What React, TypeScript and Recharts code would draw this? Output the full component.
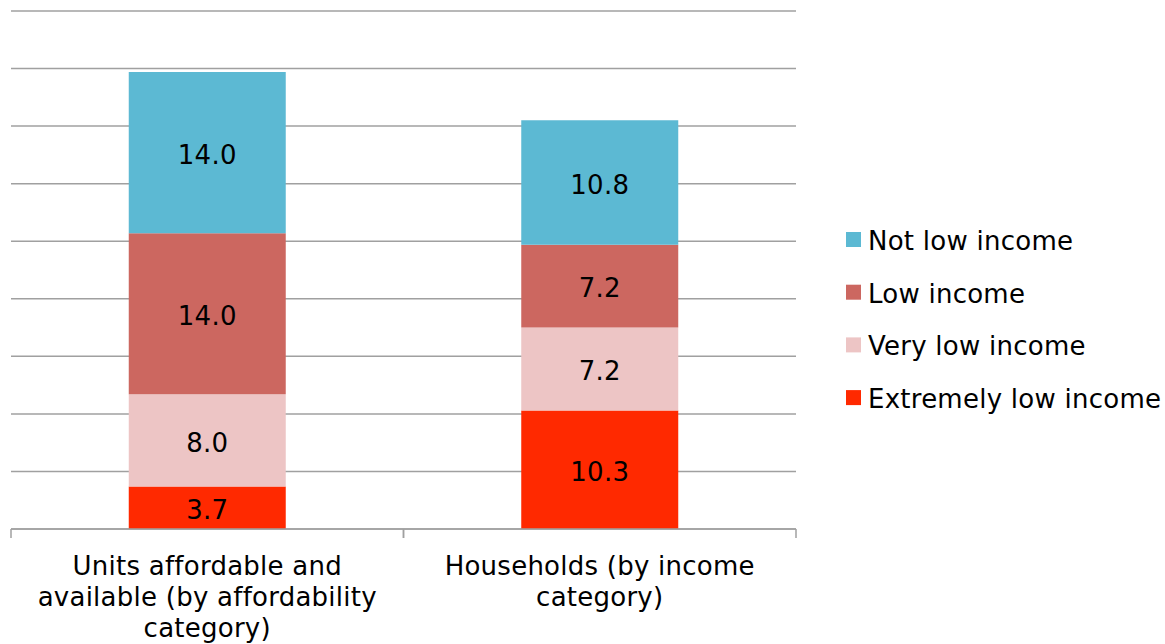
import React from "react";
import { BarChart, Bar, XAxis, YAxis, CartesianGrid, LabelList } from "recharts";

const categories = ["Units", "Households"];
const tickLabelLines = [
  ["Units affordable and", "available (by affordability", "category)"],
  ["Households (by income", "category)"],
];
const extremelyLow = [3.7, 10.3];
const veryLow = [8.0, 7.2];
const low = [14.0, 7.2];
const notLow = [14.0, 10.8];
const yTicks = [0, 5, 10, 15, 20, 25, 30, 35, 40, 45];

const series = [
  { key: "extremelyLow", name: "Extremely low income", color: "#FF2900", values: extremelyLow },
  { key: "veryLow", name: "Very low income", color: "#EDC5C5", values: veryLow },
  { key: "low", name: "Low income", color: "#CC6760", values: low },
  { key: "notLow", name: "Not low income", color: "#5CB9D3", values: notLow },
];

const data = categories.map((c, i) => {
  const row: any = { category: c, index: i };
  series.forEach((s) => (row[s.key] = s.values[i]));
  return row;
});

const FONT = "'DejaVu Sans', Verdana, sans-serif";
const GRID = "#a0a0a0";
const LS = "0.25px";

const CategoryTick = (props: any) => {
  const { x, y, payload, width, visibleTicksCount } = props;
  const band = (width || 785) / (visibleTicksCount || 2);
  const lines = tickLabelLines[payload.index] || [];
  return (
    <g>
      <line x1={x - band / 2} x2={x - band / 2} y1={y} y2={y + 9} stroke={GRID} strokeWidth={1.5} />
      <line x1={x + band / 2} x2={x + band / 2} y1={y} y2={y + 9} stroke={GRID} strokeWidth={1.5} />
      <text x={x} y={y} textAnchor="middle" fontFamily={FONT} fontSize={26} fill="#000" style={{ letterSpacing: LS }}>
        {lines.map((l, i) => (
          <tspan key={i} x={x} dy={i === 0 ? 46 : 31}>
            {l}
          </tspan>
        ))}
      </text>
    </g>
  );
};

export default function App() {
  const legendItems = [...series].reverse();
  return (
    <div style={{ position: "absolute", left: 0, top: 0, width: 1165, height: 644, background: "#fff" }}>
      <BarChart
        width={1165}
        height={644}
        data={data}
        margin={{ top: 11, left: 11, right: 369, bottom: 5 }}
        barCategoryGap="30%"
      >
        <CartesianGrid vertical={false} stroke={GRID} strokeWidth={1.5} />
        <YAxis hide domain={[0, 45]} ticks={yTicks} />
        <XAxis
          dataKey="category"
          height={110}
          axisLine={{ stroke: GRID, strokeWidth: 1.5 }}
          tickLine={false}
          tickSize={0}
          tickMargin={0}
          interval={0}
          tick={<CategoryTick />}
        />
        {series.map((s) => (
          <Bar key={s.key} dataKey={s.key} stackId="a" fill={s.color} isAnimationActive={false}>
            <LabelList
              dataKey={s.key}
              position="center"
              dy={2}
              formatter={(v: any) => Number(v).toFixed(1)}
              style={{ fontFamily: FONT, fontSize: 26, fill: "#000", letterSpacing: LS }}
            />
          </Bar>
        ))}
      </BarChart>
      <svg width={1165} height={644} style={{ position: "absolute", left: 0, top: 0, pointerEvents: "none" }}>
        {legendItems.map((s, i) => (
          <g key={s.key}>
            <rect x={846} y={232 + 52.7 * i} width={15} height={15} fill={s.color} />
            <text x={868} y={250 + 52.7 * i} fontFamily={FONT} fontSize={26} fill="#000" style={{ letterSpacing: LS }}>
              {s.name}
            </text>
          </g>
        ))}
      </svg>
    </div>
  );
}
